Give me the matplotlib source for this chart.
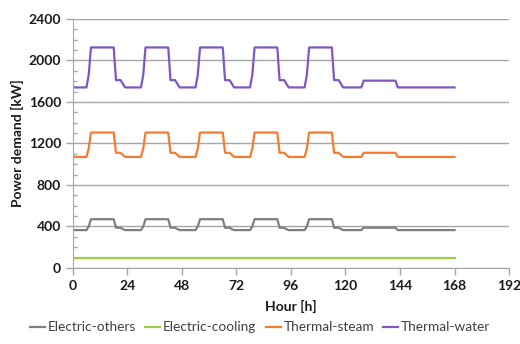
import numpy as np
import matplotlib.pyplot as plt
from matplotlib.ticker import MultipleLocator

plt.rcParams['font.family'] = ['Lato', 'DejaVu Sans']

# hourly profiles (kW), hour 0..23
weekday_water = [1740, 1740, 1740, 1740, 1740, 1740, 1740, 1860, 2125, 2125, 2125, 2125,
                 2125, 2125, 2125, 2125, 2125, 2125, 2125, 1810, 1810, 1810, 1775, 1740]
saturday_water = [1740, 1740, 1740, 1740, 1740, 1740, 1740, 1740, 1805, 1805, 1805, 1805,
                  1805, 1805, 1805, 1805, 1805, 1805, 1805, 1805, 1805, 1805, 1805, 1740]
sunday_water = [1740] * 25

weekday_steam = [1070, 1070, 1070, 1070, 1070, 1070, 1070, 1150, 1305, 1305, 1305, 1305,
                 1305, 1305, 1305, 1305, 1305, 1305, 1305, 1110, 1110, 1110, 1090, 1070]
saturday_steam = [1070, 1070, 1070, 1070, 1070, 1070, 1070, 1070, 1110, 1110, 1110, 1110,
                  1110, 1110, 1110, 1110, 1110, 1110, 1110, 1110, 1110, 1110, 1110, 1070]
sunday_steam = [1070] * 25

weekday_others = [365, 365, 365, 365, 365, 365, 365, 400, 470, 470, 470, 470,
                  470, 470, 470, 470, 470, 470, 470, 388, 388, 388, 375, 365]
saturday_others = [365, 365, 365, 365, 365, 365, 365, 365, 388, 388, 388, 388,
                   388, 388, 388, 388, 388, 388, 388, 388, 388, 388, 388, 365]
sunday_others = [365] * 25

cooling = [100] * 169

thermal_water = weekday_water * 5 + saturday_water + sunday_water
thermal_steam = weekday_steam * 5 + saturday_steam + sunday_steam
electric_others = weekday_others * 5 + saturday_others + sunday_others
hours = np.arange(len(thermal_water))

fig = plt.figure(figsize=(5.2, 3.44), dpi=100)
ax = fig.add_axes([0.140, 0.221, 0.839, 0.724])

grid_c = '#a6a6a6'
ax.plot(hours, electric_others, color='#7f7f7f', lw=1.6, label='Electric-others')
ax.plot(hours, cooling, color='#9bd046', lw=1.6, label='Electric-cooling')
ax.plot(hours, thermal_steam, color='#f57c2f', lw=1.6, label='Thermal-steam')
ax.plot(hours, thermal_water, color='#7e57c2', lw=1.6, label='Thermal-water')

ax.set_xlim(0, 192)
ax.set_ylim(0, 2400)
ax.set_xticks(np.arange(0, 193, 24))
ax.set_yticks(np.arange(0, 2401, 400))
ax.yaxis.set_minor_locator(MultipleLocator(100))
ax.grid(axis='y', color=grid_c, lw=1)
ax.set_axisbelow(True)

for s in ['top', 'right']:
    ax.spines[s].set_visible(False)
for s in ['left', 'bottom']:
    ax.spines[s].set_color(grid_c)

ax.tick_params(axis='both', which='major', color=grid_c, length=5, width=1,
               labelsize=10, labelcolor='#1a1a1a')
ax.tick_params(axis='y', which='minor', direction='in', color=grid_c, length=3, width=1)
for lbl in ax.get_xticklabels() + ax.get_yticklabels():
    lbl.set_fontweight('bold')

ax.set_xlabel('Hour [h]', fontsize=10, fontweight='bold', color='#1a1a1a', labelpad=6)
ax.set_ylabel('Power demand [kW]', fontsize=10, fontweight='bold', color='#1a1a1a', labelpad=3)

fig.legend(loc='lower center', bbox_to_anchor=(0.5, -0.005), ncol=4, frameon=False,
           fontsize=9.8, handlelength=1.1, handletextpad=0.2, columnspacing=0.7,
           labelcolor='#404040')

fig.savefig('out.png', dpi=100)
